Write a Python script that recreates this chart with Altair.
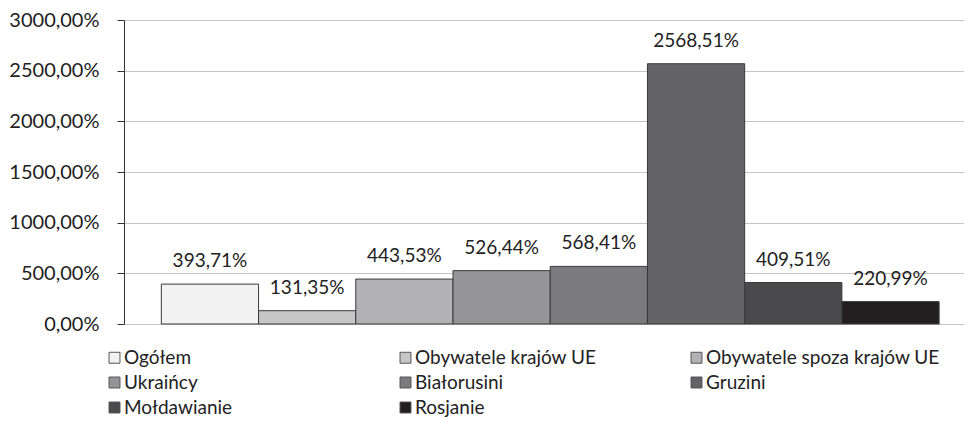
import altair as alt
import pandas as pd

names = ["Ogółem", "Obywatele krajów UE", "Obywatele spoza krajów UE", "Ukraińcy",
         "Białorusini", "Gruzini", "Mołdawianie", "Rosjanie"]
values = [393.71, 131.35, 443.53, 526.44, 568.41, 2568.51, 409.51, 220.99]
colors = ["#f2f2f2", "#c6c6c6", "#b2b2b4", "#959597", "#7b7b7d", "#636365", "#4a4a4c", "#231f20"]
y_ticks = [0, 500, 1000, 1500, 2000, 2500, 3000]

df = pd.DataFrame({"name": names, "value": values})

FONT = "Lato"

base = alt.Chart(df).transform_calculate(
    label="replace(format(datum.value, '.2f'), '.', ',') + '%'"
)

x = alt.X("name:N", sort=names, axis=None,
          scale=alt.Scale(paddingInner=0, paddingOuter=0.32, align=0.6))
y = alt.Y("value:Q",
          scale=alt.Scale(domain=[0, 3000], nice=False),
          axis=alt.Axis(values=y_ticks, title=None, grid=True, gridColor="#c4c4c4",
                        domainColor="#333333", tickColor="#333333", tickSize=7,
                        labelPadding=18, labelFont=FONT, labelFontSize=20,
                        labelColor="#222222",
                        labelExpr="replace(format(datum.value, '.2f'), '.', ',') + '%'"))

bars = base.mark_bar(stroke="#3a3a3a", strokeWidth=1).encode(
    x=x, y=y,
    color=alt.Color("name:N", sort=names,
                    scale=alt.Scale(domain=names, range=colors),
                    legend=alt.Legend(title=None, orient="none", legendX=-19, legendY=328,
                                      direction="horizontal",
                                      columns=3, gridAlign="all", columnPadding=38,
                                      rowPadding=5, symbolType="square", symbolSize=120,
                                      symbolStrokeColor="#555555", symbolStrokeWidth=1,
                                      symbolOpacity=1, labelOffset=0,
                                      labelFont=FONT, labelFontSize=19, labelColor="#222222",
                                      labelLimit=400))
)

labels = base.mark_text(baseline="bottom", dy=-13, font=FONT, fontSize=19,
                        color="#222222").encode(
    x=x, y=y, text="label:N"
)

chart = (bars + labels).properties(
    width=840, height=304, padding={"top": 2, "left": 0, "right": 0, "bottom": 5}
).configure_view(stroke=None)

chart.save("out.html", embed_options={"renderer": "svg", "actions": False})
